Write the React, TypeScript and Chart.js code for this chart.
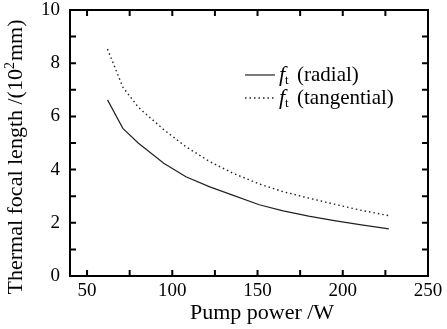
import React, { useEffect, useRef } from "react";
import { Chart, registerables } from "chart.js";

Chart.register(...registerables);

const pumpPower = [62, 71, 80, 95, 108, 122, 135, 151, 165, 180, 195, 210, 227];
const radialFocal = [6.62, 5.55, 5.0, 4.24, 3.73, 3.35, 3.05, 2.68, 2.45, 2.25, 2.08, 1.93, 1.77];
const tangentialFocal = [8.53, 7.1, 6.35, 5.5, 4.86, 4.3, 3.88, 3.46, 3.17, 2.93, 2.7, 2.48, 2.27];
const xTickValues = [50, 75, 100, 125, 150, 175, 200, 225, 250];
const yTickValues = [0, 1, 2, 3, 4, 5, 6, 7, 8, 9, 10];
const xTitle = "Pump power /W";
const yTitleParts = ["Thermal focal length /(10", "2", "mm)"];
const legendItems = [
  { sub: "t", text: "(radial)" },
  { sub: "t", text: "(tangential)" },
];

const SERIF = "'Liberation Serif', 'DejaVu Serif', serif";

const framePlugin = {
  id: "frame",
  afterDraw(chart: any) {
    const ctx = chart.ctx;
    const { left, right, top, bottom } = chart.chartArea;
    const xs = chart.scales.x;
    const ys = chart.scales.y;
    ctx.save();
    ctx.strokeStyle = "#000";
    ctx.lineWidth = 2;
    ctx.strokeRect(left, top, right - left, bottom - top);
    const tl = 6;
    xs.ticks.forEach((t: any) => {
      const px = xs.getPixelForValue(t.value);
      ctx.beginPath();
      ctx.moveTo(px, bottom);
      ctx.lineTo(px, bottom - tl);
      ctx.moveTo(px, top);
      ctx.lineTo(px, top + tl);
      ctx.stroke();
    });
    ys.ticks.forEach((t: any) => {
      const py = ys.getPixelForValue(t.value);
      ctx.beginPath();
      ctx.moveTo(left, py);
      ctx.lineTo(left + tl, py);
      ctx.moveTo(right, py);
      ctx.lineTo(right - tl, py);
      ctx.stroke();
    });

    // x title
    ctx.fillStyle = "#000";
    ctx.textBaseline = "middle";
    ctx.textAlign = "center";
    ctx.font = "22px " + SERIF;
    ctx.fillText(xTitle, 262, 313);

    // y title
    const fMain = "22px " + SERIF;
    const fSup = "14px " + SERIF;
    ctx.font = fMain;
    const w1 = ctx.measureText(yTitleParts[0]).width;
    const w3 = ctx.measureText(yTitleParts[2]).width;
    ctx.font = fSup;
    const w2 = ctx.measureText(yTitleParts[1]).width + 1;
    const total = w1 + w2 + w3;
    ctx.translate(16, 157);
    ctx.rotate(-Math.PI / 2);
    let x0 = -total / 2;
    ctx.textAlign = "left";
    ctx.font = fMain;
    ctx.fillText(yTitleParts[0], x0, 0);
    x0 += w1;
    ctx.font = fSup;
    ctx.fillText(yTitleParts[1], x0, -6);
    x0 += w2;
    ctx.font = fMain;
    ctx.fillText(yTitleParts[2], x0, 0);
    ctx.restore();

    // legend
    ctx.save();
    const rows = [75, 98];
    legendItems.forEach((it, i) => {
      const y = rows[i];
      const ds = chart.data.datasets[i];
      ctx.strokeStyle = ds.borderColor;
      ctx.lineWidth = ds.borderWidth;
      ctx.setLineDash(ds.borderDash || []);
      ctx.beginPath();
      ctx.moveTo(245, y);
      ctx.lineTo(275, y);
      ctx.stroke();
      ctx.setLineDash([]);
      ctx.fillStyle = "#000";
      ctx.textBaseline = "middle";
      ctx.textAlign = "left";
      ctx.font = "italic 22px " + SERIF;
      ctx.fillText("f", 279, y);
      ctx.font = "13px " + SERIF;
      ctx.fillText(it.sub, 285, y + 6);
      ctx.font = "21px " + SERIF;
      ctx.fillText(it.text, 297, y);
    });
    ctx.restore();
  },
};

export default function App() {
  const ref = useRef<HTMLCanvasElement | null>(null);
  useEffect(() => {
    if (!ref.current) return;
    const chart = new Chart(ref.current, {
      type: "line",
      data: {
        datasets: [
          {
            label: "radial",
            data: pumpPower.map((x, i) => ({ x, y: radialFocal[i] })),
            borderColor: "#222",
            borderWidth: 1.2,
            pointRadius: 0,
            fill: false,
            tension: 0,
          },
          {
            label: "tangential",
            data: pumpPower.map((x, i) => ({ x, y: tangentialFocal[i] })),
            borderColor: "#222",
            borderWidth: 1.4,
            borderDash: [1.5, 3],
            pointRadius: 0,
            fill: false,
            tension: 0,
          },
        ],
      },
      options: {
        responsive: false,
        animation: false,
        layout: { padding: { top: 10, right: 19, left: 0, bottom: 0 } },
        plugins: { legend: { display: false }, tooltip: { enabled: false } },
        scales: {
          x: {
            type: "linear",
            min: 40,
            max: 250,
            grid: { display: false, drawTicks: false },
            border: { display: false },
            afterBuildTicks: (s: any) => {
              s.ticks = xTickValues.map((v) => ({ value: v }));
            },
            ticks: {
              autoSkip: false,
              maxRotation: 0,
              padding: 4,
              color: "#000",
              font: { family: SERIF, size: 19 },
              callback: (v: any) => (Number(v) % 50 === 0 ? String(v) : ""),
            },
            title: { display: false },
            afterFit: (s: any) => {
              s.height = 53;
              s.paddingLeft = 0;
              s.paddingRight = 0;
            },
          },
          y: {
            min: 0,
            max: 10,
            grid: { display: false, drawTicks: false },
            border: { display: false },
            afterBuildTicks: (s: any) => {
              s.ticks = yTickValues.map((v) => ({ value: v }));
            },
            ticks: {
              autoSkip: false,
              padding: 10,
              color: "#000",
              font: { family: SERIF, size: 19 },
              callback: (v: any) => (Number(v) % 2 === 0 ? String(v) : ""),
            },
            afterFit: (s: any) => {
              s.width = 70;
              s.paddingTop = 0;
              s.paddingBottom = 0;
            },
          },
        },
      },
      plugins: [framePlugin],
    });
    return () => chart.destroy();
  }, []);
  return (
    <div style={{ position: "fixed", left: 0, top: 0, width: 447, height: 329, background: "#fff" }}>
      <canvas ref={ref} width={447} height={329} />
    </div>
  );
}
